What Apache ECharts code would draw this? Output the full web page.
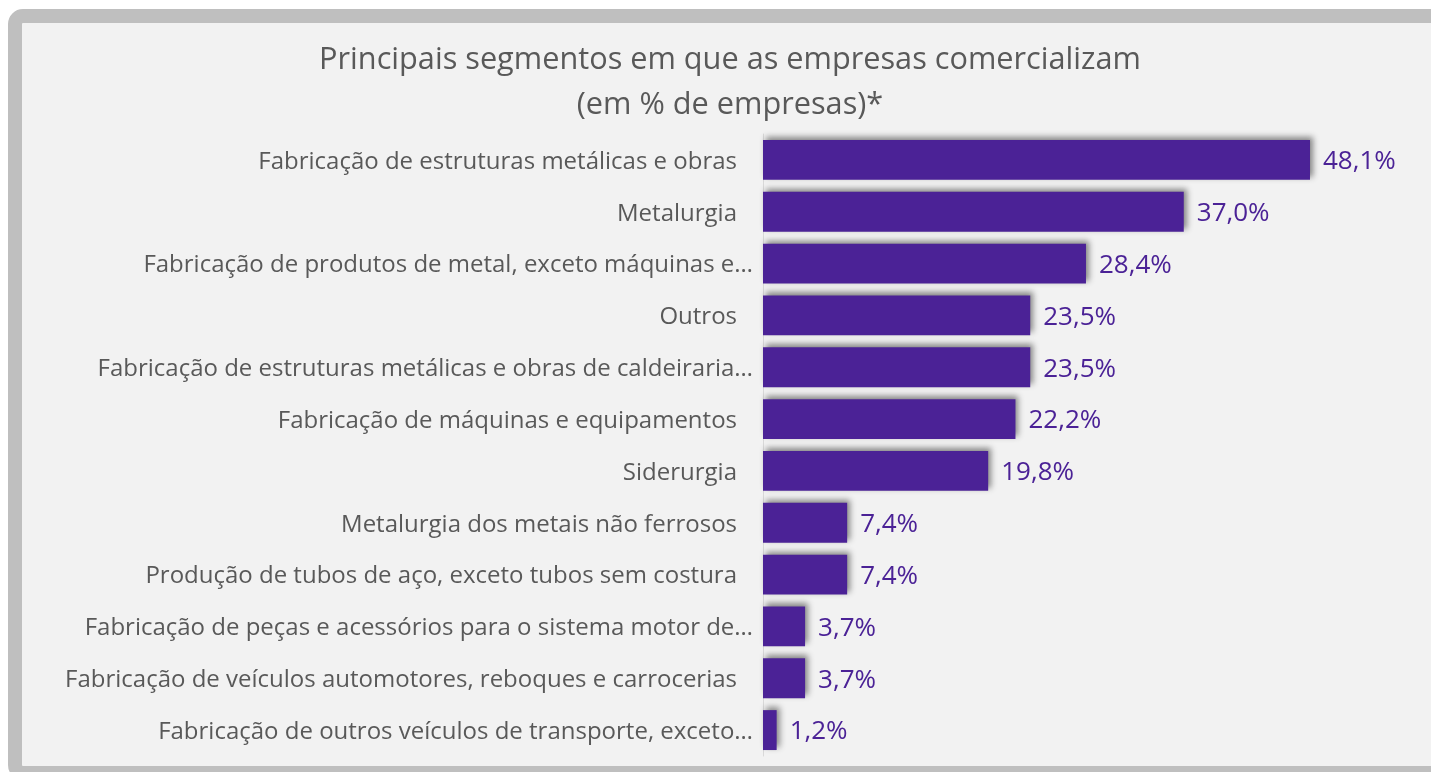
<!DOCTYPE html>
<html lang="pt">
<head>
<meta charset="UTF-8">
<title>Principais segmentos</title>
<script src="https://cdn.jsdelivr.net/npm/echarts@6/dist/echarts.min.js"></script>
<style>
  html, body { margin: 0; padding: 0; background: #fff; }
  #chart { width: 1431px; height: 772px; }
</style>
</head>
<body>
<div id="chart"></div>
<script>
var categorias = [
    'Fabricação de estruturas metálicas e obras',
    'Metalurgia',
    'Fabricação de produtos de metal, exceto máquinas e…',
    'Outros',
    'Fabricação de estruturas metálicas e obras de caldeiraria…',
    'Fabricação de máquinas e equipamentos',
    'Siderurgia',
    'Metalurgia dos metais não ferrosos',
    'Produção de tubos de aço, exceto tubos sem costura',
    'Fabricação de peças e acessórios para o sistema motor de…',
    'Fabricação de veículos automotores, reboques e carrocerias',
    'Fabricação de outros veículos de transporte, exceto…'
];
var percentuais = [48.1, 37.0, 28.4, 23.5, 23.5, 22.2, 19.8, 7.4, 7.4, 3.7, 3.7, 1.2];

var roxo = '#4b2296';
var cinzaTexto = '#595959';
var fonte = '"Open Sans", "Noto Sans", sans-serif';

var myChart = echarts.init(document.getElementById('chart'));
myChart.setOption({
    backgroundColor: '#ffffff',
    animation: false,
    graphic: [{
        type: 'rect',
        z: -10,
        silent: true,
        shape: { x: 15, y: 16, width: 1440, height: 757, r: 8 },
        style: { fill: '#f2f2f2', stroke: '#bfbfbf', lineWidth: 14 }
    }],
    title: {
        text: 'Principais segmentos em que as empresas comercializam\n(em % de empresas)*',
        left: 725,
        textAlign: 'center',
        top: 33,
        textStyle: {
            fontFamily: fonte,
            fontSize: 30.7,
            fontWeight: 'normal',
            color: cinzaTexto,
            lineHeight: 45
        }
    },
    grid: {
        left: 763,
        top: 134,
        width: 568.6,
        height: 622,
        containLabel: false
    },
    xAxis: {
        type: 'value',
        min: 0,
        max: 50,
        show: false
    },
    yAxis: {
        type: 'category',
        inverse: true,
        data: categorias,
        axisLine: { lineStyle: { color: '#d9d9d9', width: 1 } },
        axisTick: { show: false },
        axisLabel: {
            margin: 10,
            fontFamily: fonte,
            fontSize: 24,
            color: cinzaTexto,
            padding: [4, 0, 0, 0],
            formatter: function (v) {
                // rótulos inteiros ficam um pouco mais afastados do eixo
                return v.slice(-1) === '…' ? v : '{pad|' + v + '}';
            },
            rich: {
                pad: {
                    fontFamily: fonte,
                    fontSize: 24,
                    color: cinzaTexto,
                    padding: [0, 16, 0, 0]
                }
            }
        }
    },
    series: [{
        type: 'bar',
        data: percentuais,
        barCategoryGap: '23%',
        itemStyle: {
            color: roxo,
            shadowColor: 'rgba(0,0,0,0.45)',
            shadowBlur: 6,
            shadowOffsetX: 3,
            shadowOffsetY: -3
        },
        label: {
            show: true,
            position: 'right',
            distance: 13,
            fontFamily: fonte,
            fontSize: 26,
            color: roxo,
            offset: [0, 2],
            formatter: function (p) {
                return p.value.toFixed(1).replace('.', ',') + '%';
            }
        }
    }]
});
</script>
</body>
</html>
